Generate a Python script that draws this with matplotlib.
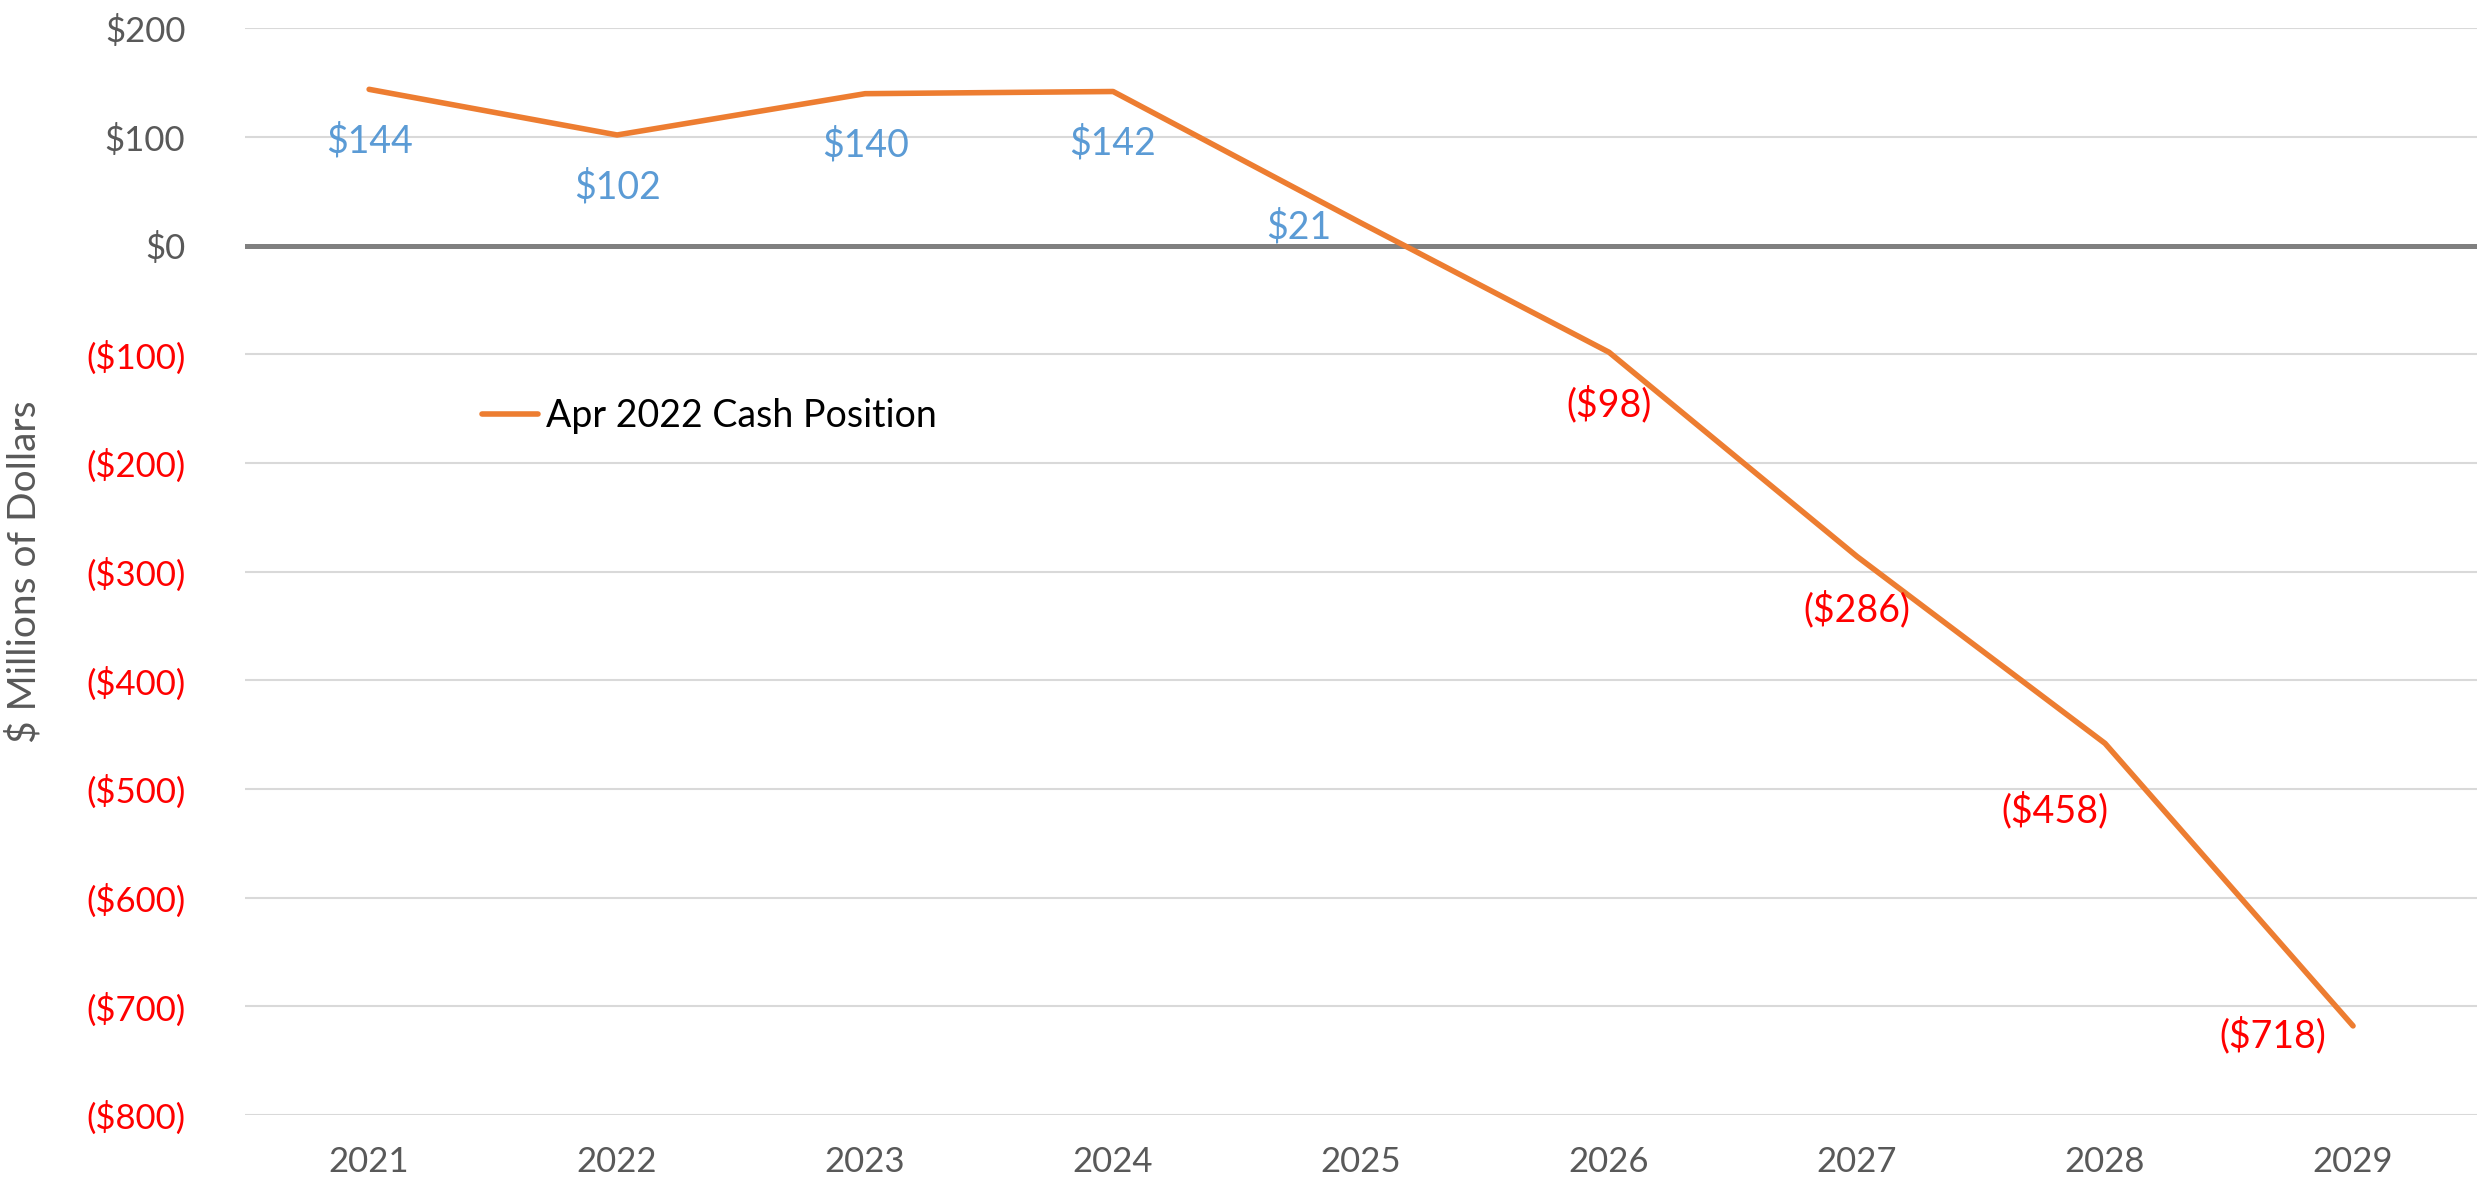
import matplotlib.pyplot as plt
from matplotlib.ticker import FixedLocator

plt.rcParams["font.family"] = ["Lato", "DejaVu Sans"]

years = ["2021", "2022", "2023", "2024", "2025", "2026", "2027", "2028", "2029"]
cash = [144, 102, 140, 142, 21, -98, -286, -458, -718]
yticks = [200, 100, 0, -100, -200, -300, -400, -500, -600, -700, -800]
# label offsets in pixels (Excel placed some by hand)
label_offsets = [(0, -52), (0, -52), (0, -52), (0, -52), (-62, -4),
                 (0, -52), (0, -53), (-50, -67), (-80, -10)]

ORANGE = "#ED7D31"
BLUE = "#5B9BD5"
RED = "#FF0000"
GREY = "#595959"
TICKSIZE = 25
LABELSIZE = 27


def money(v):
    if v < 0:
        return "(${:,.0f})".format(-v)
    return "${:,.0f}".format(v)


fig = plt.figure(figsize=(24.81, 11.92), dpi=100)
ax = fig.add_axes([0.0988, 0.0646, 0.8996, 0.9115])

x = list(range(len(years)))
ax.plot(x, cash, color=ORANGE, lw=4.0, solid_capstyle="round",
        solid_joinstyle="round", label="Apr 2022 Cash Position", zorder=3)

for xi, v, off in zip(x, cash, label_offsets):
    ax.annotate(money(v), (xi, v), xytext=off, textcoords="offset pixels",
                ha="center", va="center", fontsize=LABELSIZE,
                color=BLUE if v >= 0 else RED)

ax.set_xlim(-0.5, len(years) - 0.5)
ax.set_ylim(-800, 200)
ax.set_xticks(x)
ax.set_xticklabels(years)
ax.yaxis.set_major_locator(FixedLocator(yticks))
ax.set_yticklabels([money(v) for v in yticks])
for lab, v in zip(ax.get_yticklabels(), yticks):
    lab.set_color(GREY if v >= 0 else RED)
for lab in ax.get_xticklabels():
    lab.set_color(GREY)

ax.tick_params(axis="both", length=0, labelsize=TICKSIZE)
ax.tick_params(axis="y", pad=43)
ax.tick_params(axis="x", pad=22)
ax.grid(axis="y", color="#D9D9D9", lw=1.5)
ax.axhline(0, color="#808080", lw=3.6, zorder=2)
for s in ax.spines.values():
    s.set_visible(False)

ax.set_ylabel("$ Millions of Dollars", fontsize=28, color=GREY)
ax.yaxis.set_label_coords(-0.091, 0.5)

ax.legend(loc="center left", bbox_to_anchor=(0.091, 0.643), frameon=False,
          fontsize=LABELSIZE, handlelength=1.5, handletextpad=0.2)

plt.savefig("out.png", dpi=100)
